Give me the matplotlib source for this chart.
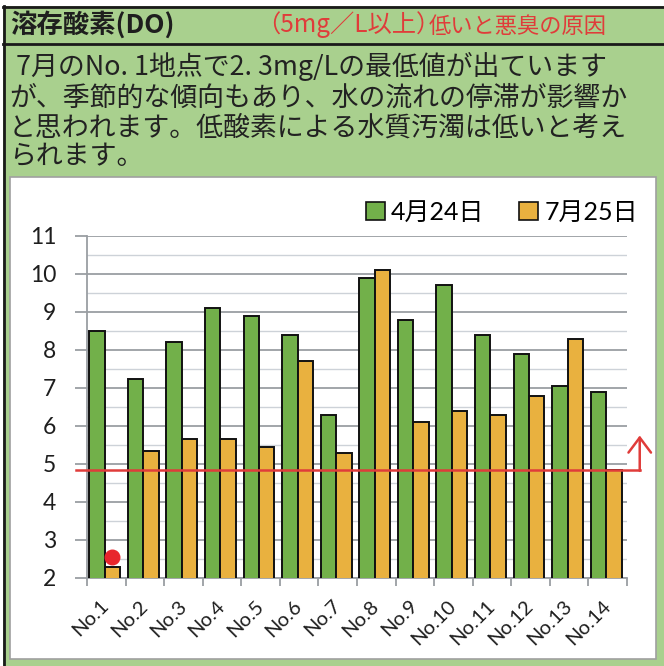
# -*- coding: utf-8 -*-
"""
Dissolved oxygen (DO) at 14 sampling points, April vs July survey.
"""

import numpy as np
import matplotlib
matplotlib.use("Agg")
import matplotlib.pyplot as plt
from matplotlib.patches import Rectangle, Patch
from matplotlib.ticker import MultipleLocator, FixedLocator

JP = ["Noto Sans CJK JP", "DejaVu Sans"]
NUM = ["Lato", "Noto Sans CJK JP", "DejaVu Sans"]
plt.rcParams["font.family"] = JP

# Data
# ====
points = ["No.1", "No.2", "No.3", "No.4", "No.5", "No.6", "No.7",
          "No.8", "No.9", "No.10", "No.11", "No.12", "No.13", "No.14"]
do_apr24 = [8.5, 7.25, 8.2, 9.1, 8.9, 8.4, 6.3, 9.9, 8.8, 9.7, 8.4, 7.9, 7.05, 6.9]
do_jul25 = [2.3, 5.35, 5.65, 5.65, 5.45, 7.7, 5.3, 10.1, 6.1, 6.4, 6.3, 6.8, 8.3, 4.85]
series_labels = ["4月24日", "7月25日"]
yticks = [2, 3, 4, 5, 6, 7, 8, 9, 10, 11]
threshold = 4.85      # red reference line as drawn on the sheet
arrow_top = 5.75
lowest_mark = 2.55    # red dot above the July No.1 bar

title = "溶存酸素(DO)"
note_big = "（5mg／L以上）"
note_small = "低いと悪臭の原因"
comment = ["7月のNo. 1地点で2. 3mg/Lの最低値が出ています",
           "が、季節的な傾向もあり、水の流れの停滞が影響か",
           "と思われます。低酸素による水質汚濁は低いと考え",
           "られます。"]

green = "#72b04a"
orange = "#e9b13f"
sheet = "#a9d08e"
red = "#e03c3a"

W, H = 664, 666
fig = plt.figure(figsize=(W / 100, H / 100), dpi=100)

# Page background, drawn in pixel coordinates
# ============================================
bg = fig.add_axes([0, 0, 1, 1])
bg.set_xlim(0, W)
bg.set_ylim(H, 0)
bg.axis("off")
bg.add_patch(Rectangle((3, 6), W, H, facecolor=sheet, edgecolor="none"))
bg.plot([3, W], [6.5, 6.5], color="#1a1a1a", lw=2)
bg.plot([3.5, 3.5], [6, H], color="#1a1a1a", lw=2)
bg.plot([3, W], [44, 44], color="#1a1a1a", lw=2)
bg.add_patch(Rectangle((10, 177), 646, 482, facecolor="white",
                       edgecolor="#a0a0a0", lw=1.2))

bg.text(10, 25, title, fontsize=19, fontweight="bold", color="#1e1e1e",
        va="center", ha="left")
t_big = bg.text(256, 25, note_big, fontsize=17.5, color=red, va="center", ha="left")
bg.annotate(note_small, xy=(1, 0.5), xycoords=t_big, xytext=(-8, -1),
            textcoords="offset points", fontsize=16, color=red,
            va="center", ha="left")

line_y = [66, 98, 128, 156]
line_x = [16, 9, 9, 9]
for s, lx, ly in zip(comment, line_x, line_y):
    bg.text(lx, ly, s, fontsize=19.4, color="#222222", va="center", ha="left")

# Chart
# =====
ax = fig.add_axes([87 / W, 1 - 578 / H, 540 / W, 342 / H])
ax.set_facecolor("none")
x = np.arange(len(points))
bw = 0.4
ax.bar(x - 0.04 - bw / 2, do_apr24, bw, bottom=0, color=green,
       edgecolor="#111111", lw=1.4, zorder=3)
ax.bar(x - 0.04 + bw / 2, do_jul25, bw, bottom=0, color=orange,
       edgecolor="#111111", lw=1.4, zorder=3)

ax.set_xlim(-0.5, len(points) - 0.5)
ax.set_ylim(yticks[0], yticks[-1])

ax.yaxis.set_major_locator(FixedLocator(yticks))
ax.yaxis.set_minor_locator(MultipleLocator(0.5))
ax.grid(axis="y", which="major", color="#9a9ea3", lw=1.3, zorder=1)
ax.grid(axis="y", which="minor", color="#cdd2d8", lw=1.0, zorder=1)
ax.tick_params(axis="y", which="major", direction="out", length=9,
               color="#9a9ea3", width=1.3, pad=13)
ax.tick_params(axis="y", which="minor", length=0)
ax.set_yticklabels([str(v) for v in yticks], fontsize=16.5, family=NUM,
                   color="#1e1e1e")

ax.set_xticks(x)
ax.set_xticks(np.arange(len(points) + 1) - 0.5, minor=True)
ax.tick_params(axis="x", which="major", length=0, pad=18)
ax.tick_params(axis="x", which="minor", direction="out", length=6,
               color="#9a9ea3", width=1.3)
ax.set_xticklabels(points, rotation=45, ha="right", va="center",
                   rotation_mode="anchor", fontsize=14.5, family=NUM,
                   color="#1e1e1e")

for side in ["top", "right"]:
    ax.spines[side].set_visible(False)
for side in ["left", "bottom"]:
    ax.spines[side].set_color("#9a9ea3")
    ax.spines[side].set_linewidth(1.3)

# reference line with the upward arrow at the right end
ax.plot([-0.78, 13.83], [threshold, threshold], color=red, lw=1.8,
        clip_on=False, zorder=5)
ax.annotate("", xy=(13.83, arrow_top), xytext=(13.83, threshold - 0.03),
            arrowprops=dict(arrowstyle="->,head_length=0.6,head_width=0.45",
                            mutation_scale=18, color=red, lw=1.8,
                            shrinkA=0, shrinkB=0),
            annotation_clip=False, zorder=5)
ax.scatter([x[0] - 0.04 + bw / 2], [lowest_mark], s=110, color="#e8262c",
           zorder=6, clip_on=False)

handles = [Patch(facecolor=green, edgecolor="#111111", lw=1.2),
           Patch(facecolor=orange, edgecolor="#111111", lw=1.2)]
ax.legend(handles, series_labels, ncol=2, loc="center right",
          bbox_to_anchor=(638 / W, 1 - 212 / H), bbox_transform=fig.transFigure,
          frameon=False, prop=dict(family=NUM, size=18),
          handlelength=0.75, handleheight=0.75, handletextpad=0.25,
          columnspacing=1.4, borderpad=0, borderaxespad=0)

plt.savefig("out.png", dpi=100)
